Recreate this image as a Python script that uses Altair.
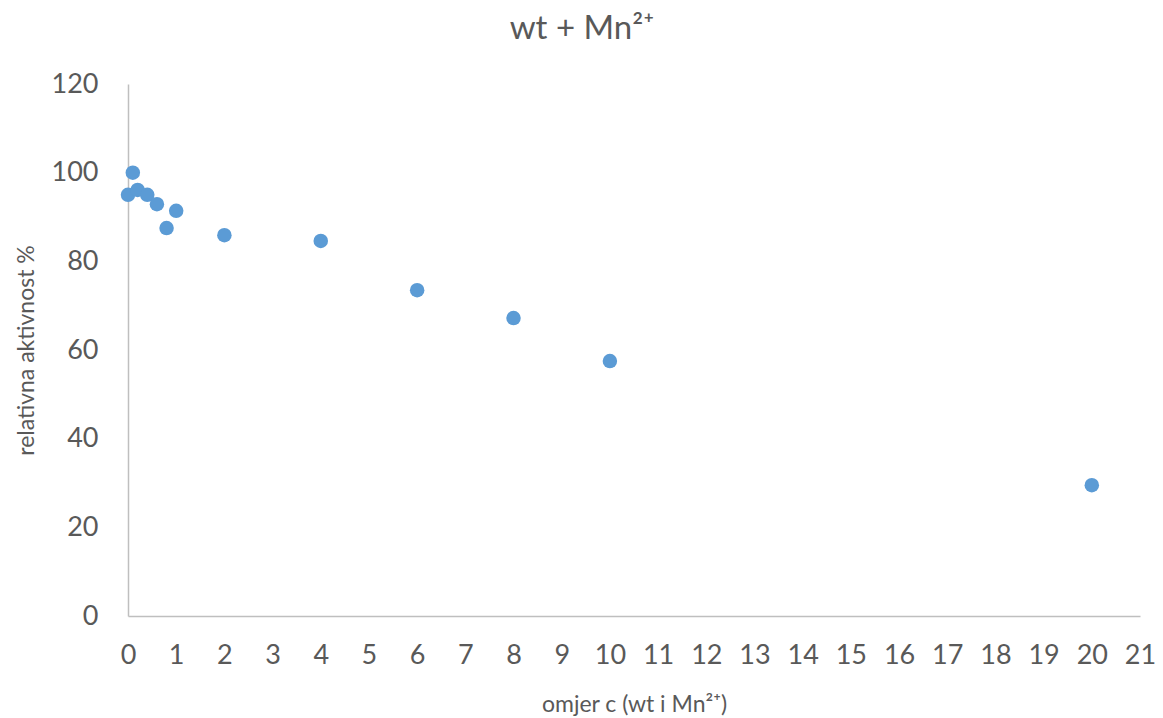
import altair as alt
import pandas as pd

ratio = [0, 0.1, 0.2, 0.4, 0.6, 0.8, 1, 2, 4, 6, 8, 10, 20]
activity = [95.0, 100.0, 96.1, 95.0, 92.9, 87.5, 91.4, 85.9, 84.6, 73.5, 67.2, 57.5, 29.5]
x_ticks = list(range(0, 22))
y_ticks = [0, 20, 40, 60, 80, 100, 120]

df = pd.DataFrame({"x": ratio, "y": activity})

FONT = "Lato"
GREY = "#595959"

chart = alt.Chart(df).mark_circle(size=210, opacity=1, color="#5B9BD5").encode(
    x=alt.X("x:Q", scale=alt.Scale(domain=[0, 21], nice=False, zero=True),
            axis=alt.Axis(values=x_ticks, title="omjer c (wt i Mn²⁺)", grid=False, ticks=False,
                          domainColor="#BFBFBF", domainWidth=1.5, labelFontSize=27, labelColor=GREY,
                          labelFont=FONT, labelPadding=26, titleFont=FONT, titleFontSize=23,
                          titleFontWeight="normal", titleColor=GREY, titlePadding=25,
                          labelFlush=False, labelOverlap=False)),
    y=alt.Y("y:Q", scale=alt.Scale(domain=[0, 120], nice=False),
            axis=alt.Axis(values=y_ticks, title="relativna aktivnost %", grid=False, ticks=False,
                          domainColor="#BFBFBF", domainWidth=1.5, labelFontSize=27, labelColor=GREY,
                          labelFont=FONT, labelPadding=30, titleFont=FONT, titleFontSize=23,
                          titleFontWeight="normal", titleColor=GREY, titlePadding=13)),
).properties(
    width=1012,
    height=532,
    title=alt.TitleParams("wt + Mn²⁺", font=FONT, fontSize=33, fontWeight="normal", color=GREY,
                          anchor="middle", dx=-52, offset=24),
    padding={"left": 120, "top": 76, "right": 15, "bottom": 118},
    autosize=alt.AutoSizeParams(type="none"),
).configure_view(stroke=None)

chart.save("out.html", embed_options={"renderer": "svg", "actions": False})
